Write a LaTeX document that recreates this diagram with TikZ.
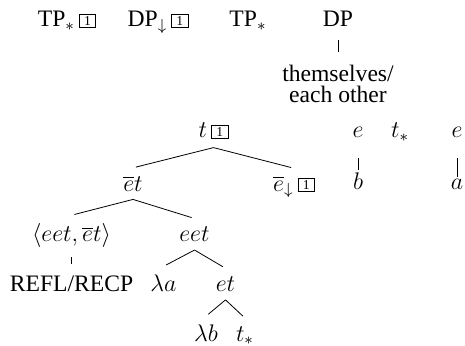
\documentclass[tikz,border=0pt]{standalone}
\usepackage{fontspec}
\setmainfont{Liberation Serif}
\newcommand{\idxbox}[1]{\raisebox{0.8pt}{\setlength{\fboxsep}{1pt}\fbox{\makebox[5.8pt]{\fontsize{6.8}{7}\selectfont #1}}}}

\begin{document}
\begin{tikzpicture}
[-,x=0.5pt,y=-0.5pt,%
  every node/.style={anchor=base,inner xsep=1pt,inner ysep=4pt,font=\fontsize{11.8}{10.5}\selectfont},%
  edge from parent path={(\tikzparentnode.south) -- (\tikzchildnode.north)},%
  edge from parent/.style={draw,shorten >=1.5pt},%
  pronline/.style={edge from parent/.style={draw,shorten <=2.5pt,shorten >=2.5pt}},%
  reflline/.style={edge from parent/.style={draw,shorten <=0.5pt,shorten >=1.7pt}},%
  varline/.style={edge from parent/.style={draw,shorten <=6pt,shorten >=-2.8pt}},%
  level distance=29pt]
\useasboundingbox (0,0) rectangle (465,346);
% top row
\node (tpbox) at (67,27) {TP$_*$\,\idxbox{1}};
\node (dpbox) at (158,27) {DP$_\downarrow$\,\idxbox{1}};
\node (tp) at (248,27) {TP$_*$};
\node (dp) at (338,27) {DP}
  [level distance=18.9pt]
  child[pronline] {node[anchor=north,align=center] (pron) {themselves/\\each other}};
% main tree
\node (t) at (213.5,138) {$t$\,\idxbox{1}}
  [sibling distance=80.5pt,level distance=29.9pt]
  child {node (ebt) {$\overline{e}t$}
    [sibling distance=61.5pt,level distance=29pt]
    child {node (refltype) {$\langle eet,\overline{e}t\rangle$}
      [level distance=28pt]
      child[reflline] {node (refl) {REFL/RECP}}
    }
    child {node (eet) {$eet$}
      [sibling distance=31pt,level distance=28.6pt]
      child {node (lama) {$\lambda a$}}
      child {node (et) {$et$}
        [sibling distance=19.5pt,level distance=28.6pt]
        child {node (lamb) {$\lambda b$}}
        child {node (tstar) {$t_*$}}
      }
    }
  }
  child {node (ebdown) {$\overline{e}_\downarrow$\,\idxbox{1}}};
% variables
\node (eb) at (358,138) {$e$}
  [level distance=28.5pt]
  child[varline] {node (b) {$b$}};
\node (tfree) at (400,138) {$t_*$};
\node (ea) at (457,138) {$e$}
  [level distance=28.5pt]
  child[varline] {node (a) {$a$}};
\end{tikzpicture}
\end{document}
